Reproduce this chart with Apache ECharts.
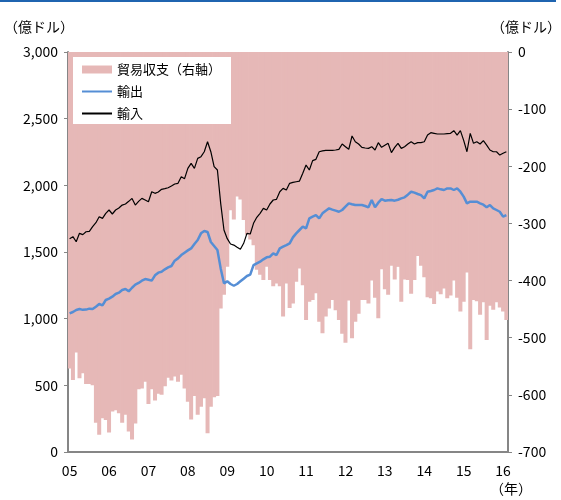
<!DOCTYPE html>
<html>
<head>
<meta charset="utf-8">
<script src="https://cdn.jsdelivr.net/npm/echarts@6/dist/echarts.min.js"></script>
<style>
html, body { margin: 0; padding: 0; background: #fff; }
#main { width: 561px; height: 500px; }
</style>
</head>
<body>
<div id="main"></div>
<script>
// 年ラベル
var years = ['05', '06', '07', '08', '09', '10', '11', '12', '13', '14', '15', '16'];

// 貿易収支（右軸、億ドル） 2005/1 - 2016/2
var balance = [
    -554, -574, -526, -571, -562, -581, -581, -583, -649, -670, -641, -644,
    -666, -629, -627, -632, -649, -635, -664, -678, -650, -590, -589, -577,
    -616, -590, -610, -598, -600, -585, -570, -575, -568, -577, -565, -589,
    -612, -643, -602, -635, -621, -606, -667, -621, -604, -602, -449, -425,
    -376, -277, -293, -253, -258, -294, -320, -328, -338, -381, -390, -399,
    -376, -399, -410, -405, -410, -463, -405, -448, -440, -402, -379, -408,
    -469, -437, -434, -422, -472, -492, -463, -449, -434, -452, -469, -493,
    -509, -435, -501, -472, -458, -434, -434, -440, -400, -430, -466, -380,
    -415, -425, -374, -398, -376, -437, -398, -399, -423, -399, -357, -374,
    -394, -429, -431, -441, -419, -424, -414, -431, -426, -400, -430, -454,
    -437, -386, -520, -434, -436, -460, -438, -504, -444, -451, -438, -447,
    -454, -469
];

// 輸出（億ドル）
var exportsData = [
    1040, 1050, 1065, 1072, 1066, 1068, 1075, 1072, 1090, 1110, 1100, 1140,
    1150, 1165, 1185, 1195, 1215, 1222, 1205, 1232, 1255, 1268, 1285, 1297,
    1292, 1285, 1325, 1345, 1352, 1370, 1385, 1395, 1435, 1452, 1477, 1495,
    1512, 1527, 1560, 1590, 1640, 1657, 1650, 1575, 1545, 1515, 1377, 1265,
    1280, 1260, 1247, 1260, 1280, 1300, 1320, 1330, 1402, 1415, 1427, 1445,
    1460, 1465, 1490, 1477, 1527, 1540, 1552, 1565, 1610, 1640, 1665, 1690,
    1677, 1752, 1765, 1777, 1752, 1790, 1810, 1827, 1818, 1810, 1802, 1815,
    1840, 1865, 1858, 1852, 1852, 1852, 1845, 1835, 1890, 1835, 1870, 1897,
    1885, 1888, 1890, 1885, 1892, 1902, 1910, 1930, 1952, 1945, 1935, 1927,
    1902, 1952, 1958, 1965, 1977, 1970, 1965, 1977, 1977, 1965, 1977, 1952,
    1915, 1865, 1877, 1877, 1877, 1865, 1855, 1835, 1852, 1827, 1815, 1802,
    1765, 1777
];

// 輸入（億ドル）
var importsData = [
    1600, 1615, 1577, 1640, 1630, 1652, 1655, 1690, 1720, 1765, 1752, 1790,
    1815, 1785, 1815, 1830, 1852, 1860, 1880, 1902, 1852, 1880, 1902, 1890,
    1877, 1952, 1940, 1950, 1970, 1975, 1982, 1995, 2010, 2015, 2065, 2050,
    2127, 2165, 2127, 2202, 2215, 2252, 2327, 2252, 2140, 2115, 1865, 1665,
    1600, 1560, 1552, 1535, 1520, 1565, 1640, 1635, 1715, 1760, 1790, 1827,
    1815, 1860, 1890, 1895, 1952, 1977, 1965, 2015, 2022, 2027, 2032, 2090,
    2152, 2115, 2185, 2195, 2252, 2258, 2262, 2262, 2262, 2265, 2270, 2310,
    2290, 2270, 2370, 2327, 2310, 2285, 2280, 2277, 2290, 2265, 2320, 2285,
    2300, 2315, 2245, 2285, 2315, 2277, 2290, 2310, 2327, 2310, 2320, 2320,
    2327, 2377, 2395, 2390, 2385, 2385, 2385, 2388, 2390, 2410, 2377, 2410,
    2337, 2252, 2390, 2315, 2327, 2310, 2335, 2302, 2265, 2252, 2252, 2227,
    2240, 2252
];

var months = [];
for (var i = 0; i < balance.length; i++) {
    months.push(years[Math.floor(i / 12)] + '/' + (i % 12 + 1));
}

var axisGray = '#868686';
var pink = '#e6b8b7';
var font = '"Noto Sans CJK JP", sans-serif';

var myChart = echarts.init(document.getElementById('main'));
myChart.setOption({
    animation: false,
    textStyle: { fontFamily: font },
    grid: { left: 68, right: 53, top: 52, bottom: 48 },
    legend: {
        left: 73,
        top: 57,
        orient: 'vertical',
        backgroundColor: '#fff',
        padding: [6, 10, 4, 8],
        itemGap: 9,
        itemWidth: 30,
        itemHeight: 8,
        textStyle: { fontSize: 13, color: '#000', fontFamily: font },
        data: [
            { name: '貿易収支（右軸）', icon: 'rect' },
            { name: '輸出', itemStyle: { opacity: 0 } },
            { name: '輸入', itemStyle: { opacity: 0 } }
        ]
    },
    xAxis: {
        type: 'category',
        data: months,
        boundaryGap: true,
        axisLine: { lineStyle: { color: axisGray, width: 2 } },
        axisTick: {
            length: 4,
            lineStyle: { color: axisGray },
            interval: function (idx) { return idx % 12 === 0; }
        },
        axisLabel: {
            margin: 12,
            fontSize: 14,
            color: '#000',
            interval: function (idx) { return idx % 12 === 0; },
            formatter: function (v, idx) { return years[Math.floor(idx / 12)]; }
        },
        splitLine: { show: false }
    },
    yAxis: [{
        type: 'value',
        min: 0,
        max: 3000,
        interval: 500,
        axisLine: { show: true, lineStyle: { color: axisGray, width: 2 } },
        axisTick: { show: true, length: 4, lineStyle: { color: axisGray } },
        axisLabel: {
            margin: 10,
            fontSize: 14,
            color: '#000',
            formatter: function (v) { return v.toLocaleString('en-US'); }
        },
        splitLine: { show: false }
    }, {
        type: 'value',
        min: -700,
        max: 0,
        interval: 100,
        axisLine: { show: true, lineStyle: { color: axisGray, width: 2 } },
        axisTick: { show: true, length: 4, lineStyle: { color: axisGray } },
        axisLabel: { margin: 10, fontSize: 14, color: '#000' },
        splitLine: { show: false }
    }],
    graphic: [
        { type: 'line', shape: { x1: 0, y1: 1, x2: 556, y2: 1 }, style: { stroke: '#1f64b0', lineWidth: 2 } },
        { type: 'text', left: 4, top: 20, style: { text: '（億ドル）', fontSize: 14, fill: '#000', fontFamily: font } },
        { type: 'text', right: 0, top: 20, style: { text: '（億ドル）', fontSize: 14, fill: '#000', fontFamily: font } },
        { type: 'text', left: 490, top: 482, style: { text: '（年）', fontSize: 14, fill: '#000', fontFamily: font } }
    ],
    series: [{
        name: '貿易収支（右軸）',
        type: 'bar',
        yAxisIndex: 1,
        data: balance,
        barWidth: 4,
        itemStyle: { color: pink }
    }, {
        name: '輸出',
        type: 'line',
        data: exportsData,
        symbol: 'none',
        lineStyle: { color: '#558ed5', width: 2.5 },
        itemStyle: { color: '#558ed5' }
    }, {
        name: '輸入',
        type: 'line',
        data: importsData,
        symbol: 'none',
        lineStyle: { color: '#000', width: 1.2 },
        itemStyle: { color: '#000' }
    }]
});
</script>
</body>
</html>
